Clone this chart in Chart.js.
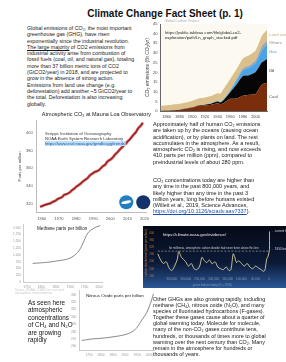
<!DOCTYPE html>
<html><head><meta charset="utf-8">
<script src="https://cdn.jsdelivr.net/npm/chart.js@4.4.0/dist/chart.umd.min.js"></script>
<style>
html,body{margin:0;padding:0;background:#fff;}
body{width:286px;height:362px;position:relative;overflow:hidden;font-family:"Liberation Sans",Arial,sans-serif;color:#111;}
.box{position:absolute;}
.txt{position:absolute;white-space:nowrap;font-size:5.3px;line-height:6.3px;color:#1a1a1a;}
canvas{display:block;}
a{color:#1a4fb0;text-decoration:underline;}
</style></head><body>

<div class="box" style="left:0;width:330px;top:8px;text-align:center;font-weight:bold;font-size:10px;color:#111;">Climate Change Fact Sheet (p. 1)</div>

<div class="txt" style="left:27px;top:25px;">Global emissions of CO₂, the most important<br>greenhouse gas (GHG), have risen<br>exponentially since the industrial revolution.<br><u>The large majority</u> of CO2 emissions from<br>industrial activity arise from combustion of<br>fossil fuels (coal, oil, and natural gas), totaling<br>more than 37 billion metric tons of CO2<br>(GtCO2/year) in 2018, and are projected to<br>grow in the absence of strong action.<br>Emissions from land use change (e.g.<br>deforestation) add another ~5 GtCO2/year to<br>the total.  Deforestation is also increasing<br>globally.</div>

<div class="box" style="left:143px;top:19px;"><canvas id="em" width="143" height="101"></canvas></div>
<div class="txt" style="left:165px;top:30px;font-size:4.2px;line-height:5px;color:#222;">https://public.tableau.com/file/global-co2-<br>exploration/path/Ln_graph_stacked.pdf</div>

<div class="box" style="left:15px;top:111px;"><canvas id="ml" width="136" height="112"></canvas></div>
<div class="txt" style="left:45px;top:131px;font-size:4.2px;line-height:5px;color:#333;">Scripps Institution of Oceanography<br>NOAA Earth System Research Laboratory<br><span style="background:#bfe0f5;color:#1a4fb0;">https://www.esrl.noaa.gov/gmd/ccgg/trends/</span></div>

<div class="txt" style="left:153px;top:121px;font-size:5.5px;">Approximately half of human CO₂ emissions<br>are taken up by the oceans (causing ocean<br>acidification), or by plants on land.  The rest<br>accumulates in the atmosphere.  As a result,<br>atmospheric CO₂ is rising, and now exceeds<br>410 parts per million (ppm), compared to<br>preindustrial levels of about 280 ppm.</div>
<div class="txt" style="left:153px;top:177px;font-size:5.5px;">CO₂ concentrations today are higher than<br>any time in the past 800,000 years, and<br>likely higher than any time in the past 3<br>million years, long before humans existed<br>(Willeit et al., 2019, Science Advances,<br><a>https://doi.org/10.1126/sciadv.aav7337</a>).</div>

<div class="box" style="left:12px;top:222px;"><canvas id="ch4" width="92" height="68"></canvas></div>
<div class="txt" style="left:37px;top:226px;font-size:4.6px;color:#222;">Methane parts per billion</div>
<div class="txt" style="left:15px;top:289px;font-size:3px;line-height:3.4px;color:#c8c8c8;">Source: NOAA / CSIRO ice core and<br>atmospheric measurements</div>

<div class="box" style="left:143px;top:226px;"><canvas id="vk" width="143" height="62"></canvas></div>
<div class="txt" style="left:163px;top:232px;font-size:4.2px;color:#f2f2f2;">https://climate.nasa.gov/evidence/</div>

<div class="txt" style="left:28px;top:299px;font-size:6.3px;line-height:7.4px;color:#111;">As seen here<br>atmospheric<br>concentrations<br>of CH₄ and N₂O<br>are growing<br>rapidly</div>

<div class="box" style="left:70px;top:288px;"><canvas id="n2o" width="86" height="70"></canvas></div>
<div class="txt" style="left:86px;top:293px;font-size:4.4px;color:#222;">Nitrous Oxide parts per billion</div>

<div class="txt" style="left:153px;top:296px;font-size:5.4px;line-height:6.1px;">Other GHGs are also growing rapidly, including<br>methane (CH₄), nitrous oxide (N₂O), and many<br>species of fluorinated hydrocarbons (F-gases).<br>Together these gases cause about a quarter of<br>global warming today.  Molecule for molecule,<br>many of the non-CO₂ gases contribute tens,<br>hundreds, or thousands of times more to global<br>warming over the next century than CO₂.  Many<br>remain in the atmosphere for hundreds or<br>thousands of years.</div>

<script>
// ---------- DATA ----------
// Global CO2 emissions by source (Bt CO2 / yr)
const emYears  = [1850,1860,1870,1880,1890,1900,1910,1920,1930,1940,1945,1950,1960,1970,1980,1990,2000,2010,2018];
const emCoal   = [0.2,0.3,0.5,0.8,1.3,1.9,2.8,3.0,3.3,4.1,3.6,4.2,6.4,6.5,8.0,8.5,8.9,13.8,14.7];
const emOil    = [0,0,0,0,0.03,0.08,0.15,0.35,0.6,0.85,0.9,1.7,3.4,7.3,10.2,10.1,11.3,11.4,12.3];
const emGas    = [0,0,0,0,0,0.01,0.03,0.06,0.15,0.25,0.3,0.35,0.8,2.1,3.0,4.0,4.8,6.3,7.5];
const emOthers = [0,0,0,0,0,0.02,0.04,0.05,0.08,0.12,0.12,0.2,0.4,0.8,1.0,1.0,1.3,2.1,2.0];
const emLand   = [2.6,2.8,3.0,3.1,3.2,3.3,3.5,3.6,3.7,3.9,4.2,5.2,5.6,4.9,5.0,5.3,5.0,5.2,5.5];
const emNames  = ['Coal','Oil','Gas','Others','Land use'];
const emTicks  = [1860,1880,1900,1920,1940,1960,1980,2000];

// Mauna Loa annual mean CO2 (ppm)
const mlYears = [1959,1960,1961,1962,1963,1964,1965,1966,1967,1968,1969,1970,1971,1972,1973,1974,1975,1976,1977,1978,1979,1980,1981,1982,1983,1984,1985,1986,1987,1988,1989,1990,1991,1992,1993,1994,1995,1996,1997,1998,1999,2000,2001,2002,2003,2004,2005,2006,2007,2008,2009,2010,2011,2012,2013,2014,2015,2016,2017,2018,2019];
const mlPpm   = [315.97,316.91,317.64,318.45,318.99,319.62,320.04,321.38,322.16,323.04,324.62,325.68,326.32,327.46,329.68,330.19,331.13,332.03,333.84,335.41,336.84,338.76,340.12,341.48,343.15,344.85,346.35,347.61,349.31,351.69,353.20,354.45,355.70,356.54,357.21,358.96,360.97,362.74,363.88,366.84,368.54,369.71,371.32,373.45,375.98,377.70,379.98,382.09,384.02,385.83,387.64,390.10,391.85,394.06,396.74,398.81,401.01,404.41,406.76,408.72,411.66];
const mlXTicks = [1960,1970,1980,1990,2000,2010,2020];
const mlYTicks = [320,340,360,380,400];

// Methane (ppb)
const ch4Years = [1770,1800,1830,1860,1888,1910,1930,1945,1961,1980,2004];
const ch4Ppb   = [690,710,740,790,840,950,1150,1450,1800,1970,2080];
const ch4XTicks = [1750,1800,1850,1900,1950,2000];
const ch4YTicks = [0,250,500,750,1000,1250,1500,1750,2000];

// Nitrous oxide (ppb)
const n2oYears = [1720,1760,1800,1850,1900,1930,1950,1970,1990,2005,2018];
const n2oPpb   = [268,270,271,273,276,280,286,296,306,318,331];
const n2oXTicks = [1750,1800,1850,1900,1950,2000];
const n2oYTicks = [260,270,280,290,300,310,320,330];

// Ice-core CO2, last 400,000 years (ppm); x = years before 1950 (negative)
const vkYears = [-400000,-390000,-380000,-370000,-360000,-350000,-340000,-330000,-325000,-315000,-300000,-290000,-280000,-270000,-260000,-250000,-242000,-235000,-225000,-215000,-205000,-195000,-185000,-175000,-165000,-155000,-145000,-138000,-130000,-125000,-118000,-110000,-100000,-90000,-80000,-70000,-60000,-50000,-40000,-30000,-20000,-15000,-10000,-5000,0,50];
const vkPpm   = [285,250,230,240,205,190,215,255,298,265,240,215,230,200,195,215,265,250,235,250,228,240,210,200,195,210,190,195,285,270,235,245,230,215,230,210,200,215,205,195,185,200,255,270,310,412];
const vkCeiling = [300,300];
const vkCeilX = [-400000,0];
const vkXTicks = [-350000,-300000,-250000,-200000,-150000,-100000,-50000,0];

// ---------- HELPERS ----------
Chart.defaults.font.family = '"Liberation Sans", Arial, sans-serif';
Chart.defaults.animation = false;
Chart.defaults.responsive = false;
Chart.defaults.plugins.legend.display = false;
Chart.defaults.plugins.tooltip.enabled = false;
const pts = (xs, ys) => xs.map((x, i) => ({x, y: ys[i]}));
const areaBg = color => ({id:'areaBg', beforeDraw(c){const a=c.chartArea,g=c.ctx;g.save();g.fillStyle=color;g.fillRect(a.left,a.top,a.width,a.height);g.restore();}});
const fixTicks = list => (function(s){ s.ticks = list.map(v => ({value:v})); });

// ---------- EMISSIONS STACKED AREA ----------
const emColors = ['#7a2e0c','#060606','#4aa3e6','#9ea3a8','#d9c08c'];
const emLabelColors = ['#555','#111','#4aa3e6','#888','#c9ad74'];
const emSeries = [emCoal, emOil, emGas, emOthers, emLand];
new Chart(document.getElementById('em'), {
  type: 'line',
  data: { datasets: emSeries.map((s, i) => ({
    label: emNames[i], data: pts(emYears, s), backgroundColor: emColors[i], borderWidth: 0,
    fill: i === 0 ? 'origin' : '-1', pointRadius: 0, tension: 0.2 })) },
  options: {
    layout: { padding: { left: 1, right: 19, top: 5, bottom: 0 } },
    scales: {
      x: { type: 'linear', min: 1850, max: 2018, afterBuildTicks: fixTicks(emTicks),
           grid: { display: false, drawTicks: true, tickLength: 2 }, border: { color: '#666' },
           ticks: { font: { size: 4 }, color: '#444', maxRotation: 0, padding: 1, callback: v => v } },
      y: { stacked: true, min: 0, max: 45, grid: { display: false, tickLength: 2 }, border: { color: '#666' },
           ticks: { stepSize: 5, font: { size: 4 }, color: '#444', padding: 1 },
           title: { display: true, text: 'CO₂ emissions (Bt CO₂/yr)', font: { size: 5 }, color: '#444', padding: 1 } }
    }
  },
  plugins: [areaBg('#fcf9f1'), {
    id: 'emLabels',
    afterDatasetsDraw(c) {
      const g = c.ctx, ys = c.scales.y, a = c.chartArea, n = emYears.length - 1;
      let cum = 0, prevY = -1e9; const items = [];
      emSeries.forEach((s, i) => { const mid = cum + s[n] / 2; cum += s[n]; items.push({i, y: ys.getPixelForValue(mid)}); });
      items.reverse();
      g.save(); g.font = '4.3px "Liberation Sans", Arial'; g.textBaseline = 'middle';
      items.forEach(it => { let y = Math.max(it.y, prevY + 6); prevY = y; g.fillStyle = emLabelColors[it.i]; g.fillText(emNames[it.i], a.right + 2, y); });
      g.fillStyle = '#aaa'; g.font = '3.5px "Liberation Sans", Arial'; g.fillText('Global Carbon Project', a.left + 4, a.top - 3);
      g.restore();
    }
  }]
});

// ---------- MAUNA LOA ----------
new Chart(document.getElementById('ml'), {
  type: 'line',
  data: { datasets: [
    { data: pts(mlYears, mlPpm), borderColor: '#111', borderWidth: 0.6, pointRadius: 0, tension: 0.3 },
    { data: pts(mlYears, mlPpm), borderColor: 'rgba(214,48,48,0.9)', borderWidth: 2.6, pointRadius: 0, tension: 0.3 }
  ] },
  options: {
    layout: { padding: { left: 0, right: 0, top: 0, bottom: 0 } },
    plugins: { title: { display: true, text: 'Atmospheric CO₂ at Mauna Loa Observatory', font: { size: 5.5, weight: 'normal' }, color: '#222', padding: { top: 0, bottom: 3 }, align: 'end' } },
    scales: {
      x: { type: 'linear', min: 1957, max: 2021, afterBuildTicks: fixTicks(mlXTicks), grid: { display: false, tickLength: 2 }, border: { color: '#bbb' },
           ticks: { font: { size: 4 }, color: '#555', maxRotation: 0, padding: 2, callback: v => v } },
      y: { min: 310, max: 414, afterBuildTicks: fixTicks(mlYTicks), grid: { display: false, tickLength: 2 }, border: { color: '#bbb' },
           ticks: { font: { size: 4 }, color: '#555', padding: 2 },
           title: { display: true, text: 'Parts per million', font: { size: 4.2 }, color: '#555', padding: 2 } }
    }
  },
  plugins: [{
    id: 'logos',
    afterDraw(c) {
      const g = c.ctx, a = c.chartArea;
      g.save();
      g.fillStyle = '#1f7fc2'; g.beginPath(); g.arc(a.right - 20, a.bottom - 10, 7, 0, Math.PI * 2); g.fill();
      g.fillStyle = '#fff'; g.beginPath(); g.ellipse(a.right - 20, a.bottom - 10, 5, 1.5, -0.2, 0, Math.PI * 2); g.fill();
      g.fillStyle = '#14326e'; g.beginPath(); g.arc(a.right - 3, a.bottom - 10, 7, 0, Math.PI * 2); g.fill();
      g.restore();
    }
  }]
});

// ---------- light small charts ----------
function smallChart(id, xs, ys, xt, yt, xmin, xmax, ymin, ymax) {
  new Chart(document.getElementById(id), {
    type: 'line',
    data: { datasets: [{ data: pts(xs, ys), borderColor: '#555', borderWidth: 0.7, pointRadius: 0, tension: 0.4 }] },
    options: {
      layout: { padding: { left: 0, right: 2, top: 2, bottom: 0 } },
      scales: {
        x: { type: 'linear', min: xmin, max: xmax, afterBuildTicks: fixTicks(xt), grid: { display: false, tickLength: 2 }, border: { color: '#ccc' },
             ticks: { font: { size: 3.2 }, color: '#999', maxRotation: 0, padding: 1, callback: v => v } },
        y: { min: ymin, max: ymax, afterBuildTicks: fixTicks(yt), grid: { display: false, tickLength: 2 }, border: { color: '#ccc' },
             ticks: { font: { size: 3.2 }, color: '#999', padding: 1 } }
      }
    }
  });
}
smallChart('ch4', ch4Years, ch4Ppb, ch4XTicks, ch4YTicks, 1740, 2010, 0, 2100);
smallChart('n2o', n2oYears, n2oPpb, n2oXTicks, n2oYTicks, 1710, 2020, 255, 335);

// ---------- ICE CORE (dark) ----------
new Chart(document.getElementById('vk'), {
  type: 'line',
  data: { datasets: [
    { data: pts(vkCeilX, vkCeiling), borderColor: 'rgba(230,230,230,0.8)', borderWidth: 0.6, borderDash: [2, 1.5], pointRadius: 0 },
    { data: pts(vkYears, vkPpm), borderColor: '#efe6a8', borderWidth: 0.8, pointRadius: 0, tension: 0.3 }
  ] },
  options: {
    layout: { padding: { left: 2, right: 16, top: 4, bottom: 1 } },
    scales: {
      x: { type: 'linear', min: -410000, max: 2000, afterBuildTicks: fixTicks(vkXTicks), grid: { display: false, drawTicks: false }, border: { display: false },
           ticks: { font: { size: 3 }, color: '#8a97b0', maxRotation: 0, padding: 2, autoSkip: false, callback: v => Math.abs(v).toLocaleString('en-US') },
           title: { display: true, text: 'years before today (0 = 1950)', font: { size: 3 }, color: '#8a97b0', padding: 0 } },
      y: { min: 160, max: 420, grid: { display: false, drawTicks: false }, border: { display: false },
           ticks: { stepSize: 20, font: { size: 2.8 }, color: '#c07a3a', padding: 1 },
           title: { display: true, text: 'carbon dioxide level (parts per million)', font: { size: 2.8 }, color: '#c07a3a', padding: 0 } }
    }
  },
  plugins: [{
    id: 'darkBg',
    beforeDraw(c) {
      const g = c.ctx, h = c.height, w = c.width;
      const gr = g.createLinearGradient(0, 0, 0, h);
      gr.addColorStop(0, '#050a16'); gr.addColorStop(0.6, '#0c1a38'); gr.addColorStop(1, '#2a5798');
      g.save(); g.fillStyle = gr; g.fillRect(0, 0, w, h); g.restore();
    },
    afterDatasetsDraw(c) {
      const g = c.ctx, a = c.chartArea, ys = c.scales.y;
      g.save(); g.font = '3px "Liberation Sans", Arial'; g.fillStyle = '#dde'; g.textBaseline = 'middle';
      g.fillText('← current level', a.right + 1, ys.getPixelForValue(vkPpm[vkPpm.length - 1]));
      g.fillText('← 1950 level', a.right + 1, ys.getPixelForValue(vkPpm[vkPpm.length - 2]));
      g.fillStyle = '#ccc'; g.font = '2.8px "Liberation Sans", Arial';
      g.fillText('for millennia, atmospheric carbon dioxide had never been above this line', a.left + 14, ys.getPixelForValue(vkCeiling[0]) - 2.5);
      g.restore();
    }
  }]
});
</script>
</body></html>
